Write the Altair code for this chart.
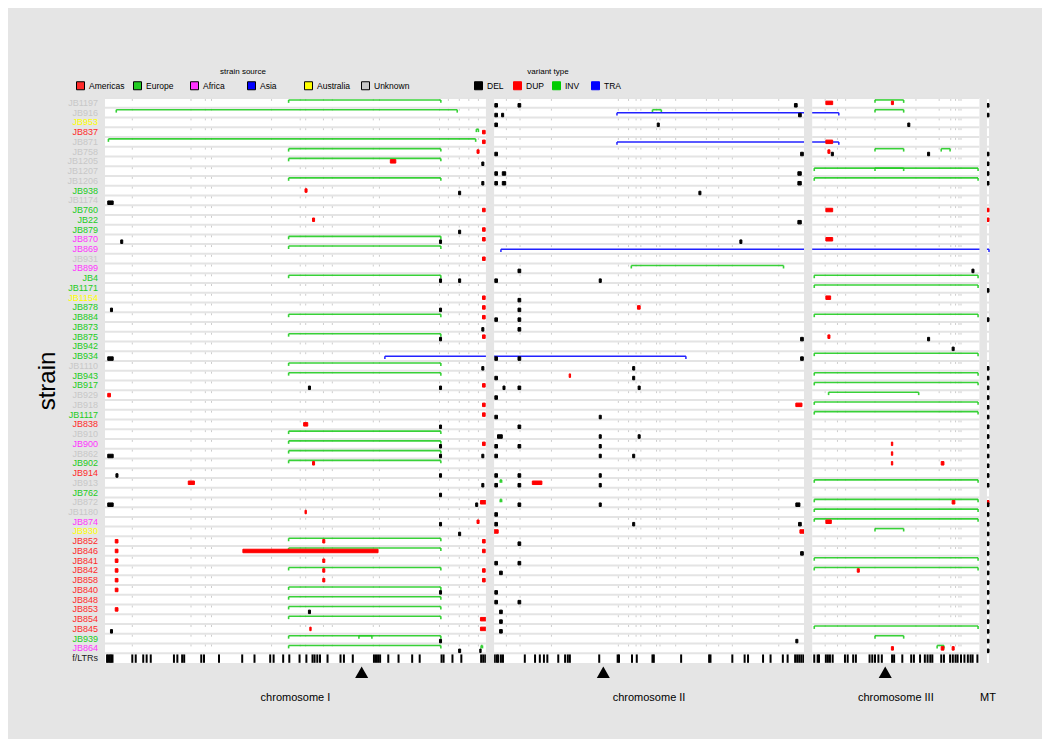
import altair as alt
import pandas as pd

# ---------------- data ----------------
STRAINS = ["JB1197", "JB916", "JB953", "JB837", "JB871", "JB758", "JB1205", "JB1207", "JB1206",
           "JB938", "JB1174", "JB760", "JB22", "JB879", "JB870", "JB869", "JB931", "JB899", "JB4",
           "JB1171", "JB1154", "JB878", "JB884", "JB873", "JB875", "JB942", "JB934", "JB1110",
           "JB943", "JB917", "JB929", "JB918", "JB1117", "JB838", "JB910", "JB900", "JB862",
           "JB902", "JB914", "JB913", "JB762", "JB872", "JB1180", "JB874", "JB930", "JB852",
           "JB846", "JB841", "JB842", "JB858", "JB840", "JB848", "JB853", "JB854", "JB845",
           "JB939", "JB864", "f/LTRs"]
SOURCES = ["Unknown", "Unknown", "Australia", "Americas", "Unknown", "Unknown", "Unknown", "Unknown",
           "Unknown", "Europe", "Unknown", "Europe", "Europe", "Europe", "Africa", "Africa", "Unknown",
           "Africa", "Europe", "Europe", "Australia", "Europe", "Europe", "Europe", "Europe", "Europe",
           "Europe", "Unknown", "Europe", "Europe", "Unknown", "Unknown", "Europe", "Americas",
           "Unknown", "Africa", "Unknown", "Europe", "Americas", "Unknown", "Europe", "Unknown",
           "Unknown", "Africa", "Australia", "Americas", "Americas", "Americas", "Americas",
           "Americas", "Americas", "Americas", "Americas", "Americas", "Americas", "Europe", "Africa"]
SOURCE_ORDER = ["Americas", "Europe", "Africa", "Asia", "Australia", "Unknown"]
SOURCE_COLORS = ["#ff2a2a", "#22cc22", "#ff33ff", "#0000ff", "#ffff00", "#c8c8c8"]
VTYPES = ["DEL", "DUP", "INV", "TRA"]
VTYPE_COLORS = ["#000000", "#ff0000", "#00cc00", "#0000ff"]

CHROMS = ["I", "II", "III", "MT"]
CHROM_LEN = [5.58, 4.54, 2.45, 0.03]          # Mb
CHROM_GAP = [0.12, 0.12, 0.11]
CHROM_LABELS = ["chromosome I", "chromosome II", "chromosome III", "MT"]
CENTROMERES = [("I", 3.76), ("II", 1.60), ("III", 1.07)]

# small variants common positions (Mb)
SMALL_I = [0.40, 1.26, 1.47, 1.56, 2.44, 2.86, 2.94, 3.20, 3.33, 3.93, 4.02, 4.90, 5.03, 5.19, 5.33, 5.47]
SMALL_II = [0.18, 0.38, 0.84, 1.82, 1.97, 2.08, 2.15, 2.38, 2.43, 2.66, 3.11, 3.29, 3.49, 4.17]
SMALL_III = [0.19, 0.37, 0.49, 0.92, 1.52, 1.86, 2.03, 2.10, 2.15, 2.18]

# LTRs (Mb)
LTR_I = [0.03, 0.05, 0.07, 0.09, 0.11, 0.40, 0.45, 0.56, 0.61, 0.67, 1.01, 1.06, 1.13, 1.16, 1.41, 1.45,
         1.67, 2.01, 2.19, 2.42, 2.47, 2.61, 2.70, 2.85, 2.95, 3.04, 3.07, 3.11, 3.15, 3.26, 3.45, 3.50,
         3.63, 3.94, 3.97, 4.00, 4.03, 4.15, 4.30, 4.50, 4.61, 4.93, 4.96, 5.09, 5.22, 5.51, 5.54, 5.57]
LTR_II = [0.01, 0.04, 0.06, 0.10, 0.13, 0.45, 0.60, 0.67, 0.73, 0.78, 0.94, 1.04, 1.08, 1.11, 1.54, 1.81,
          1.83, 2.02, 2.09, 2.32, 2.34, 2.74, 3.15, 3.17, 3.49, 3.67, 3.72, 3.94, 4.05, 4.23, 4.30, 4.41,
          4.44, 4.47, 4.50, 4.53]
LTR_III = [0.03, 0.08, 0.10, 0.20, 0.23, 0.26, 0.30, 0.48, 0.52, 0.60, 0.64, 0.84, 0.88, 0.92, 0.97, 1.02,
           1.17, 1.20, 1.32, 1.45, 1.49, 1.58, 1.65, 1.69, 1.73, 1.76, 1.89, 1.93, 2.02, 2.06, 2.10, 2.13,
           2.18, 2.23, 2.28, 2.32, 2.35, 2.42]

# inversions
INV_I_MAIN = (2.69, 4.92)
INV_I_MAIN_ROWS = [0, 5, 6, 8, 14, 15, 18, 22, 24, 27, 28, 34, 35, 36, 37, 45, 46, 48, 50, 51, 52, 53, 55, 56]
INV_III_SHORT = (0.92, 1.34)
INV_III_SHORT_ROWS = [0, 1, 5, 7, 44, 55]
INV_III_FULL = (0.03, 2.43)
INV_III_FULL_ROWS = [7, 8, 18, 19, 22, 26, 28, 29, 31, 32, 39, 41, 42, 43, 47, 48, 54]
INV_OTHER = [(1, "I", 0.165, 5.16), (4, "I", 0.05, 5.43), (3, "I", 5.44, 5.47), (55, "I", 3.72, 3.91),
             (56, "I", 5.51, 5.53), (1, "II", 2.32, 2.45), (17, "II", 2.01, 4.24), (39, "II", 0.09, 0.11),
             (41, "II", 0.09, 0.11), (5, "III", 1.89, 2.02), (30, "III", 0.24, 1.56), (56, "III", 1.83, 1.93)]

# translocations: row, chrom A, pos A, chrom B, pos B
TRA = [(1, "II", 1.80, "III", 0.39), (4, "II", 1.80, "III", 0.39), (15, "II", 0.10, "MT", 0.03),
       (26, "I", 4.10, "II", 2.81)]

DUP = [(3, "I", 5.53, 5.57), (4, "I", 5.53, 5.57), (5, "I", 5.45, 5.48), (6, "I", 4.18, 4.26),
       (9, "I", 2.93, 2.96), (11, "I", 5.53, 5.57), (12, "I", 3.04, 3.07), (13, "I", 5.53, 5.57),
       (14, "I", 5.53, 5.57), (16, "I", 5.53, 5.57), (20, "I", 5.53, 5.57), (21, "I", 5.53, 5.57),
       (22, "I", 5.53, 5.57), (24, "I", 5.53, 5.57), (29, "I", 5.53, 5.57), (30, "I", 0.04, 0.08),
       (31, "I", 5.53, 5.57), (32, "I", 5.53, 5.57), (33, "I", 2.91, 2.97), (35, "I", 5.53, 5.57),
       (37, "I", 3.04, 3.07), (39, "I", 1.22, 1.31), (41, "I", 5.50, 5.58), (42, "I", 2.93, 2.95),
       (43, "I", 5.45, 5.48), (45, "I", 0.15, 0.19), (45, "I", 3.19, 3.22), (45, "I", 5.53, 5.57),
       (46, "I", 0.15, 0.19), (46, "I", 2.02, 4.00), (46, "I", 5.53, 5.57), (47, "I", 0.15, 0.19),
       (47, "I", 3.19, 3.22), (48, "I", 0.15, 0.19), (48, "I", 3.19, 3.22), (48, "I", 5.53, 5.57),
       (49, "I", 0.15, 0.19), (49, "I", 3.19, 3.22), (49, "I", 5.53, 5.57), (50, "I", 0.15, 0.19),
       (52, "I", 0.15, 0.19), (53, "I", 5.50, 5.58), (54, "I", 3.00, 3.02), (54, "I", 5.50, 5.58),
       (21, "II", 2.10, 2.14), (28, "II", 1.10, 1.12), (31, "II", 4.42, 4.51), (39, "II", 0.56, 0.70),
       (44, "II", 0.00, 0.06), (44, "II", 4.48, 4.54),
       (0, "III", 0.20, 0.30), (0, "III", 1.16, 1.19), (4, "III", 0.20, 0.30), (5, "III", 0.23, 0.26),
       (11, "III", 0.20, 0.30), (14, "III", 0.20, 0.30), (20, "III", 0.20, 0.27), (24, "III", 0.23, 0.26),
       (35, "III", 1.16, 1.18), (36, "III", 1.16, 1.18), (37, "III", 1.16, 1.18), (37, "III", 1.89, 1.93),
       (41, "III", 2.05, 2.09), (43, "III", 0.20, 0.28), (48, "III", 0.66, 0.69), (56, "III", 1.16, 1.19),
       (56, "III", 1.89, 1.93), (56, "III", 2.05, 2.08),
       (11, "MT", 0.0, 0.03), (12, "MT", 0.0, 0.03), (41, "MT", 0.0, 0.03)]

DEL = [(6, "I", 5.52, 5.55), (8, "I", 5.52, 5.55), (9, "I", 5.18, 5.21), (10, "I", 0.04, 0.12),
       (13, "I", 5.18, 5.21), (14, "I", 0.23, 0.26), (14, "I", 4.90, 4.93), (18, "I", 4.90, 4.93),
       (18, "I", 5.18, 5.21), (21, "I", 0.08, 0.11), (21, "I", 4.90, 4.93), (23, "I", 5.52, 5.55),
       (24, "I", 4.90, 4.93), (26, "I", 0.04, 0.12), (27, "I", 5.52, 5.55), (29, "I", 2.98, 3.01),
       (29, "I", 4.90, 4.93), (33, "I", 4.90, 4.93), (35, "I", 4.90, 4.93), (36, "I", 0.04, 0.12),
       (36, "I", 4.90, 4.93), (36, "I", 5.52, 5.55), (38, "I", 0.16, 0.19), (38, "I", 4.90, 4.93),
       (39, "I", 5.52, 5.55), (40, "I", 4.90, 4.93), (41, "I", 0.04, 0.12), (41, "I", 5.43, 5.46),
       (43, "I", 4.90, 4.93), (44, "I", 5.18, 5.21), (50, "I", 4.90, 4.93), (52, "I", 2.98, 3.01),
       (54, "I", 0.08, 0.11), (55, "I", 4.90, 4.93), (56, "I", 5.18, 5.21), (56, "I", 5.49, 5.51),
       (0, "II", 0.01, 0.05), (0, "II", 0.35, 0.39), (0, "II", 4.40, 4.44),
       (1, "II", 0.01, 0.05), (1, "II", 0.11, 0.14), (1, "II", 4.46, 4.50),
       (2, "II", 0.01, 0.05), (2, "II", 2.39, 2.42), (5, "II", 0.01, 0.05), (5, "II", 4.49, 4.53),
       (7, "II", 0.01, 0.05), (7, "II", 0.12, 0.17), (7, "II", 4.45, 4.50),
       (8, "II", 0.01, 0.05), (8, "II", 0.12, 0.17), (8, "II", 4.45, 4.50),
       (9, "II", 3.00, 3.03), (12, "II", 4.45, 4.50), (14, "II", 3.60, 3.63), (17, "II", 0.35, 0.39),
       (18, "II", 0.01, 0.05), (18, "II", 1.54, 1.57), (20, "II", 0.35, 0.39), (21, "II", 0.35, 0.39),
       (22, "II", 0.01, 0.05), (22, "II", 0.35, 0.39), (23, "II", 0.35, 0.39), (24, "II", 4.49, 4.53),
       (26, "II", 0.01, 0.05), (26, "II", 0.35, 0.39), (26, "II", 4.49, 4.53), (27, "II", 2.03, 2.06),
       (28, "II", 0.01, 0.05), (28, "II", 2.03, 2.06), (29, "II", 0.13, 0.16), (29, "II", 0.35, 0.39),
       (29, "II", 2.11, 2.14), (30, "II", 0.01, 0.05), (32, "II", 0.01, 0.05), (32, "II", 1.54, 1.57),
       (33, "II", 0.35, 0.39), (34, "II", 0.05, 0.12), (34, "II", 1.54, 1.57), (34, "II", 2.11, 2.14),
       (35, "II", 0.01, 0.05), (35, "II", 0.35, 0.39), (35, "II", 1.54, 1.57),
       (36, "II", 0.01, 0.05), (36, "II", 1.54, 1.57), (36, "II", 2.03, 2.06),
       (38, "II", 0.01, 0.05), (38, "II", 0.35, 0.39), (38, "II", 1.54, 1.57),
       (39, "II", 0.01, 0.05), (39, "II", 0.35, 0.39), (39, "II", 1.54, 1.57),
       (41, "II", 0.35, 0.39), (41, "II", 1.54, 1.57), (41, "II", 4.42, 4.48), (42, "II", 0.01, 0.05),
       (43, "II", 0.01, 0.05), (43, "II", 2.03, 2.06), (43, "II", 4.46, 4.50), (45, "II", 0.35, 0.39),
       (46, "II", 4.49, 4.53), (47, "II", 0.01, 0.05), (47, "II", 0.35, 0.39), (48, "II", 0.08, 0.12),
       (50, "II", 0.01, 0.05), (51, "II", 0.01, 0.05), (51, "II", 0.35, 0.39), (52, "II", 0.08, 0.12),
       (53, "II", 0.08, 0.12), (54, "II", 0.08, 0.12), (55, "II", 4.42, 4.45),
       (2, "III", 1.40, 1.43), (5, "III", 0.28, 0.31), (5, "III", 1.69, 1.72), (17, "III", 2.34, 2.37),
       (24, "III", 1.69, 1.72), (25, "III", 2.05, 2.08)]
DEL_MT_ROWS = [0, 1, 5, 6, 7, 8, 19, 22, 27, 28, 29, 30, 31, 32, 33, 34, 35, 36, 37, 38, 39, 41, 42, 43,
               44, 45, 46, 47, 48, 49, 50, 51, 52, 53, 54, 55, 56]

# ---------------- derived tables ----------------
OFF = {}
p = 0.0
for i, (c, L) in enumerate(zip(CHROMS, CHROM_LEN)):
    OFF[c] = p
    p += L + (CHROM_GAP[i] if i < len(CHROM_GAP) else 0.0)
TOTAL = p
NROW = len(STRAINS)
LTR_ROW = NROW - 1
BG = "#e5e5e5"
FONT = "Liberation Sans"

sep_df = pd.DataFrame([{"g0": OFF[c], "g1": OFF[c] + L, "y": r}
                       for r in range(NROW) for c, L in zip(CHROMS, CHROM_LEN)])

small = []
for c, lst in (("I", SMALL_I), ("II", SMALL_II), ("III", SMALL_III)):
    for r in range(LTR_ROW):
        for v in lst:
            small.append({"g": OFF[c] + v, "y0": r + 0.1, "y1": r + 0.3})
small_df = pd.DataFrame(small)

ltr = []
for c, lst in (("I", LTR_I), ("II", LTR_II), ("III", LTR_III)):
    for v in lst:
        ltr.append({"g": OFF[c] + v, "y0": LTR_ROW + 0.12, "y1": LTR_ROW + 0.98})
ltr_df = pd.DataFrame(ltr)

inv = [(r, "I", *INV_I_MAIN) for r in INV_I_MAIN_ROWS]
inv += [(r, "III", *INV_III_SHORT) for r in INV_III_SHORT_ROWS]
inv += [(r, "III", *INV_III_FULL) for r in INV_III_FULL_ROWS]
inv += INV_OTHER
inv_df = pd.DataFrame([{"g0": OFF[c] + a, "g1": OFF[c] + b, "y": r + 0.2} for r, c, a, b in inv])
inv_end_df = pd.DataFrame([{"g": OFF[c] + v, "y0": r + 0.2, "y1": r + 0.5}
                           for r, c, a, b in inv for v in (a, b)])

tra_df = pd.DataFrame([{"g0": OFF[c1] + a, "g1": OFF[c2] + b, "y": r + 0.52} for r, c1, a, c2, b in TRA])
tra_end_df = pd.DataFrame([{"g": g, "y0": r + 0.52, "y1": r + 0.8}
                           for r, c1, a, c2, b in TRA for g in (OFF[c1] + a, OFF[c2] + b)])

rects = [{"g0": OFF[c] + a, "g1": OFF[c] + b, "y0": r + 0.32, "y1": r + 0.68, "vtype": "DUP"}
         for r, c, a, b in DUP]
rects += [{"g0": OFF[c] + a, "g1": OFF[c] + b, "y0": r + 0.57, "y1": r + 0.93, "vtype": "DEL"}
          for r, c, a, b in DEL]
rects += [{"g0": OFF["MT"], "g1": OFF["MT"] + CHROM_LEN[3], "y0": r + 0.57, "y1": r + 0.93, "vtype": "DEL"}
          for r in DEL_MT_ROWS]
rect_df = pd.DataFrame(rects)

gap_df = pd.DataFrame([{"g0": OFF[CHROMS[i]] + CHROM_LEN[i], "g1": OFF[CHROMS[i + 1]], "y0": 0, "y1": NROW}
                       for i in range(3)])

lab_df = pd.DataFrame([{"strain": s, "source": src, "y": i + 0.5} for i, (s, src) in enumerate(zip(STRAINS, SOURCES))])
ltr_lab_df = pd.DataFrame([{"strain": STRAINS[-1], "y": LTR_ROW + 0.5}])

cen_df = pd.DataFrame([{"g": OFF[c] + v, "y": NROW + 0.95} for c, v in CENTROMERES])
chrlab_df = pd.DataFrame([{"g": OFF[c] + L / 2, "y": NROW + 3.6, "label": t}
                          for c, L, t in zip(CHROMS, CHROM_LEN, CHROM_LABELS)])

# ---------------- encodings ----------------
xs = alt.Scale(domain=[0, TOTAL], nice=False, zero=False)
ys = alt.Scale(domain=[0, NROW], nice=False, zero=False, reverse=True)
yaxis = alt.Axis(title="strain", labels=False, ticks=False, domain=False, grid=False,
                 titleFontSize=24, titleFontWeight="normal", titleFont=FONT, titleColor="black",
                 titlePadding=46)
vscale = alt.Scale(domain=VTYPES, range=VTYPE_COLORS)


def X(f):
    return alt.X(f"{f}:Q", scale=xs, axis=None)


def Y(f):
    return alt.Y(f"{f}:Q", scale=ys, axis=yaxis)


def legend(title, lx):
    return alt.Legend(title=title, orient="none", legendX=lx, legendY=-30,
                      direction="horizontal", gridAlign="all",
                      columnPadding=6, symbolType="square", symbolSize=64,
                      symbolStrokeColor="black", symbolStrokeWidth=1,
                      titleFontSize=8, titleFontWeight="normal", titleFont=FONT,
                      labelFont=FONT, labelFontSize=8.5, titleAnchor="middle",
                      titlePadding=5, padding=0)


sep = alt.Chart(sep_df).mark_rule(color="#e4e4e4", strokeWidth=2).encode(
    x=X("g0"), x2="g1", y=Y("y"))
smalls = alt.Chart(small_df).mark_rule(color="#cdcdcd", strokeWidth=1).encode(
    x=X("g"), y=Y("y0"), y2="y1")
ltrs = alt.Chart(ltr_df).mark_rule(color="black", strokeWidth=2).encode(
    x=X("g"), y=Y("y0"), y2="y1")
invs = alt.Chart(inv_df).mark_rule(color="#22cc22", strokeWidth=1.6, opacity=0.9).encode(
    x=X("g0"), x2="g1", y=Y("y"))
inv_ends = alt.Chart(inv_end_df).mark_rule(color="#22cc22", strokeWidth=1.6, opacity=0.9).encode(
    x=X("g"), y=Y("y0"), y2="y1")
tras = alt.Chart(tra_df).mark_rule(color="#2222ff", strokeWidth=1.5).encode(
    x=X("g0"), x2="g1", y=Y("y"))
tra_ends = alt.Chart(tra_end_df).mark_rule(color="#2222ff", strokeWidth=1.5).encode(
    x=X("g"), y=Y("y0"), y2="y1")
boxes = alt.Chart(rect_df).mark_rect(strokeWidth=1).encode(
    x=X("g0"), x2="g1", y=Y("y0"), y2="y1",
    fill=alt.Fill("vtype:N", scale=vscale, legend=legend("variant type", 369)),
    stroke=alt.Stroke("vtype:N", scale=vscale, legend=None))
gaps = alt.Chart(gap_df).mark_rect(color=BG).encode(x=X("g0"), x2="g1", y=Y("y0"), y2="y1")
labels = alt.Chart(lab_df).mark_text(align="right", baseline="middle", font=FONT, fontSize=9).encode(
    x=alt.value(-7), y=Y("y"), text="strain:N",
    color=alt.Color("source:N", scale=alt.Scale(domain=SOURCE_ORDER, range=SOURCE_COLORS),
                    legend=legend("strain source", -29)))
ltr_label = alt.Chart(ltr_lab_df).mark_text(align="right", baseline="middle", font=FONT, fontSize=9,
                                            color="#222222").encode(
    x=alt.value(-7), y=Y("y"), text="strain:N")
cens = alt.Chart(cen_df).mark_point(shape="triangle-up", filled=True, size=170, color="black",
                                    opacity=1).encode(x=X("g"), y=Y("y"))
chrlabs = alt.Chart(chrlab_df).mark_text(font=FONT, fontSize=11, color="black", baseline="middle").encode(
    x=X("g"), y=Y("y"), text="label:N")

chart = alt.layer(sep, smalls, ltrs, invs, inv_ends, tras, tra_ends, boxes, gaps, labels, ltr_label,
                  cens, chrlabs).properties(
    width=884, height=565,
    autosize=alt.AutoSizeParams(type="none"),
    padding={"left": 97, "top": 90, "right": 53, "bottom": 76},
).configure(background=BG).configure_view(fill="white", strokeWidth=0)

chart.save("out.html", embed_options={"renderer": "svg", "actions": False})
